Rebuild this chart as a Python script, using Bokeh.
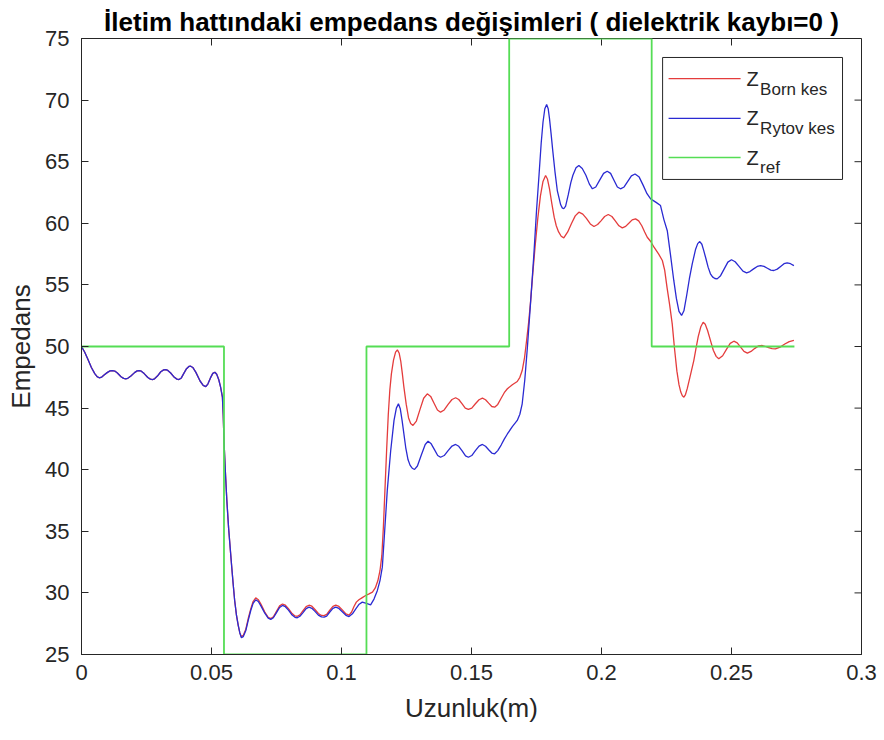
import math
from bokeh.plotting import figure
from bokeh.models import FixedTicker, Range1d
from bokeh.core.properties import value
from bokeh.embed import file_html
from bokeh.resources import INLINE

# ---------------- data ----------------
# first section: both curves coincide
x_section1 = [0.0000, 0.0012, 0.0025, 0.0038, 0.0051, 0.0060, 0.0068, 0.0078, 0.0088, 0.0100,
              0.0110, 0.0119, 0.0128, 0.0138, 0.0152, 0.0162, 0.0170, 0.0178, 0.0190, 0.0204,
              0.0214, 0.0222, 0.0230, 0.0241, 0.0255, 0.0265, 0.0273, 0.0281, 0.0292, 0.0305,
              0.0316, 0.0324, 0.0332, 0.0343, 0.0357, 0.0367, 0.0375, 0.0384, 0.0393, 0.0404,
              0.0413, 0.0420, 0.0428, 0.0440, 0.0456, 0.0468, 0.0478, 0.0486, 0.0496, 0.0505,
              0.0513, 0.0520, 0.0528, 0.0535, 0.0542, 0.0545, 0.0548, 0.0553, 0.0559, 0.0566,
              0.0577, 0.0583, 0.0589, 0.0596, 0.0603, 0.0609]
z_section1 = [50.00, 49.55, 48.95, 48.30, 47.80, 47.55, 47.46, 47.52, 47.70, 47.90,
              48.02, 48.05, 48.01, 47.85, 47.55, 47.41, 47.38, 47.42, 47.60, 47.88,
              48.02, 48.05, 48.00, 47.80, 47.48, 47.35, 47.32, 47.38, 47.60, 47.95,
              48.10, 48.13, 48.06, 47.85, 47.50, 47.35, 47.32, 47.45, 47.80, 48.20,
              48.38, 48.40, 48.30, 47.90, 47.20, 46.85, 46.75, 46.95, 47.45, 47.82,
              47.91, 47.75, 47.30, 46.70, 45.89, 44.50, 42.37, 40.00, 37.50, 35.20,
              32.30, 30.80, 29.40, 28.20, 27.35, 26.75]

x_rytov_rest = [0.0615, 0.0622, 0.0632, 0.0641, 0.0651, 0.0660, 0.0670, 0.0680, 0.0690, 0.0705,
                0.0718, 0.0728, 0.0738, 0.0750, 0.0762, 0.0773, 0.0784, 0.0796, 0.0810, 0.0821,
                0.0830, 0.0840, 0.0852, 0.0864, 0.0875, 0.0886, 0.0898, 0.0911, 0.0923, 0.0933,
                0.0943, 0.0955, 0.0967, 0.0978, 0.0990, 0.1004, 0.1017, 0.1029, 0.1042, 0.1055,
                0.1068, 0.1080, 0.1096, 0.1112, 0.1125, 0.1138, 0.1148, 0.1157, 0.1166, 0.1176,
                0.1189, 0.1202, 0.1211, 0.1219, 0.1226, 0.1233, 0.1247, 0.1256, 0.1264, 0.1272,
                0.1281, 0.1292, 0.1307, 0.1322, 0.1333, 0.1345, 0.1357, 0.1370, 0.1381, 0.1395,
                0.1410, 0.1425, 0.1439, 0.1451, 0.1464, 0.1477, 0.1488, 0.1501, 0.1515, 0.1529,
                0.1542, 0.1554, 0.1566, 0.1578, 0.1589, 0.1601, 0.1614, 0.1626, 0.1638, 0.1657,
                0.1676, 0.1686, 0.1695, 0.1705, 0.1715, 0.1727, 0.1740, 0.1750, 0.1760, 0.1768,
                0.1775, 0.1782, 0.1789, 0.1795, 0.1800, 0.1806, 0.1812, 0.1821, 0.1830, 0.1843,
                0.1849, 0.1855, 0.1862, 0.1872, 0.1882, 0.1890, 0.1902, 0.1913, 0.1926, 0.1940,
                0.1953, 0.1965, 0.1978, 0.1993, 0.2008, 0.2022, 0.2035, 0.2048, 0.2061, 0.2073,
                0.2087, 0.2101, 0.2115, 0.2129, 0.2145, 0.2160, 0.2175, 0.2189, 0.2210, 0.2227,
                0.2240, 0.2253, 0.2265, 0.2278, 0.2288, 0.2298, 0.2308, 0.2317, 0.2328, 0.2338,
                0.2349, 0.2362, 0.2370, 0.2378, 0.2386, 0.2393, 0.2402, 0.2410, 0.2419, 0.2427,
                0.2436, 0.2445, 0.2458, 0.2472, 0.2486, 0.2500, 0.2514, 0.2529, 0.2544, 0.2558,
                0.2571, 0.2585, 0.2599, 0.2612, 0.2625, 0.2638, 0.2651, 0.2663, 0.2676, 0.2689,
                0.2702, 0.2714, 0.2727, 0.2740]
z_rytov_rest = [26.36, 26.45, 26.95, 27.75, 28.57, 29.15, 29.44, 29.30, 28.95, 28.35,
                27.95, 27.85, 27.98, 28.40, 28.82, 28.98, 28.88, 28.60, 28.20, 28.02,
                27.98, 28.10, 28.40, 28.72, 28.84, 28.75, 28.50, 28.20, 28.05, 28.03,
                28.12, 28.45, 28.75, 28.84, 28.74, 28.45, 28.18, 28.08, 28.30, 28.70,
                29.08, 29.25, 29.15, 29.03, 29.50, 30.20, 31.00, 32.09, 35.00, 38.30,
                41.50, 44.00, 45.00, 45.35, 44.95, 44.00, 41.80, 40.80, 40.35, 40.12,
                40.02, 40.30, 41.20, 42.05, 42.31, 42.10, 41.65, 41.15, 41.01, 41.15,
                41.55, 41.92, 42.05, 41.90, 41.52, 41.12, 41.01, 41.15, 41.55, 41.92,
                42.05, 41.90, 41.62, 41.35, 41.29, 41.55, 42.00, 42.48, 42.90, 43.50,
                44.00, 44.50, 45.35, 47.30, 49.94, 53.50, 57.50, 61.00, 64.00, 66.50,
                68.20, 69.30, 69.64, 69.30, 68.50, 67.30, 66.00, 64.20, 62.66, 61.50,
                61.25, 61.18, 61.40, 62.30, 63.30, 63.90, 64.50, 64.69, 64.45, 63.90,
                63.20, 62.80, 62.95, 63.50, 64.05, 64.23, 64.05, 63.50, 62.95, 62.80,
                62.95, 63.40, 63.85, 64.00, 63.75, 63.10, 62.40, 61.98, 61.70, 61.44,
                60.30, 59.40, 57.50, 55.36, 53.90, 52.85, 52.52, 52.90, 54.20, 55.50,
                56.71, 57.90, 58.35, 58.52, 58.30, 57.80, 57.10, 56.44, 55.90, 55.65,
                55.52, 55.49, 55.75, 56.30, 56.85, 57.04, 56.88, 56.50, 56.12, 55.98,
                56.08, 56.30, 56.50, 56.57, 56.50, 56.35, 56.20, 56.17, 56.28, 56.50,
                56.72, 56.79, 56.72, 56.57]

x_born_rest = [0.0615, 0.0622, 0.0632, 0.0641, 0.0651, 0.0660, 0.0670, 0.0680, 0.0690, 0.0705,
               0.0718, 0.0728, 0.0738, 0.0750, 0.0762, 0.0773, 0.0784, 0.0796, 0.0810, 0.0821,
               0.0830, 0.0840, 0.0852, 0.0864, 0.0875, 0.0886, 0.0898, 0.0911, 0.0923, 0.0933,
               0.0943, 0.0955, 0.0967, 0.0978, 0.0990, 0.1004, 0.1017, 0.1029, 0.1039, 0.1048,
               0.1057, 0.1067, 0.1080, 0.1093, 0.1106, 0.1119, 0.1130, 0.1140, 0.1148, 0.1155,
               0.1161, 0.1167, 0.1174, 0.1180, 0.1186, 0.1192, 0.1200, 0.1208, 0.1215, 0.1222,
               0.1228, 0.1234, 0.1240, 0.1249, 0.1258, 0.1266, 0.1275, 0.1288, 0.1302, 0.1316,
               0.1330, 0.1343, 0.1356, 0.1369, 0.1381, 0.1395, 0.1410, 0.1425, 0.1439, 0.1451,
               0.1464, 0.1476, 0.1488, 0.1501, 0.1515, 0.1529, 0.1542, 0.1554, 0.1566, 0.1578,
               0.1589, 0.1601, 0.1614, 0.1626, 0.1638, 0.1657, 0.1676, 0.1686, 0.1695, 0.1704,
               0.1712, 0.1720, 0.1727, 0.1736, 0.1745, 0.1755, 0.1765, 0.1775, 0.1785, 0.1792,
               0.1800, 0.1809, 0.1818, 0.1826, 0.1835, 0.1845, 0.1855, 0.1870, 0.1885, 0.1899,
               0.1913, 0.1928, 0.1942, 0.1957, 0.1971, 0.1985, 0.1998, 0.2012, 0.2026, 0.2040,
               0.2053, 0.2067, 0.2080, 0.2093, 0.2105, 0.2118, 0.2131, 0.2143, 0.2155, 0.2166,
               0.2176, 0.2190, 0.2202, 0.2220, 0.2234, 0.2243, 0.2252, 0.2262, 0.2272, 0.2281,
               0.2290, 0.2298, 0.2305, 0.2311, 0.2317, 0.2323, 0.2330, 0.2340, 0.2355, 0.2364,
               0.2372, 0.2382, 0.2391, 0.2399, 0.2408, 0.2419, 0.2430, 0.2441, 0.2451, 0.2466,
               0.2480, 0.2495, 0.2509, 0.2522, 0.2535, 0.2548, 0.2561, 0.2575, 0.2590, 0.2604,
               0.2618, 0.2631, 0.2643, 0.2656, 0.2669, 0.2687, 0.2705, 0.2722, 0.2740]
z_born_rest = [26.45, 26.55, 27.05, 27.90, 28.70, 29.30, 29.60, 29.45, 29.10, 28.45,
               28.02, 27.92, 28.05, 28.50, 28.95, 29.10, 29.00, 28.72, 28.32, 28.13,
               28.10, 28.22, 28.55, 28.88, 29.00, 28.92, 28.65, 28.33, 28.17, 28.15,
               28.25, 28.60, 28.90, 29.00, 28.90, 28.60, 28.30, 28.20, 28.45, 28.90,
               29.25, 29.44, 29.62, 29.79, 29.92, 30.06, 30.40, 31.00, 31.80, 33.00,
               35.30, 38.30, 41.80, 44.50, 46.50, 47.80, 48.90, 49.55, 49.73, 49.45,
               48.80, 47.80, 46.70, 45.30, 44.20, 43.75, 43.59, 43.95, 44.90, 45.80,
               46.16, 45.95, 45.40, 44.85, 44.67, 44.85, 45.30, 45.70, 45.84, 45.70,
               45.35, 45.00, 44.89, 45.00, 45.35, 45.68, 45.81, 45.68, 45.40, 45.13,
               45.07, 45.30, 45.80, 46.25, 46.57, 46.90, 47.16, 47.50, 48.05, 49.10,
               50.50, 52.00, 53.60, 56.00, 58.20, 60.40, 62.20, 63.40, 63.88, 63.60,
               62.80, 61.60, 60.50, 59.80, 59.30, 58.95, 58.82, 59.30, 60.00, 60.60,
               60.90, 60.75, 60.40, 59.95, 59.74, 59.90, 60.20, 60.55, 60.71, 60.55,
               60.20, 59.80, 59.63, 59.75, 60.00, 60.28, 60.36, 60.20, 59.80, 59.30,
               58.87, 58.50, 58.06, 57.50, 56.98, 56.20, 54.80, 53.40, 51.84, 49.80,
               48.00, 46.90, 46.30, 46.00, 45.89, 46.10, 46.60, 47.50, 48.86, 49.90,
               50.80, 51.60, 51.97, 51.80, 51.30, 50.50, 49.70, 49.20, 49.00, 49.25,
               49.75, 50.25, 50.43, 50.30, 49.95, 49.60, 49.46, 49.60, 49.85, 50.05,
               50.08, 50.00, 49.90, 49.82, 49.81, 49.95, 50.20, 50.40, 50.49]

x_born = x_section1 + x_born_rest
z_born = z_section1 + z_born_rest
x_rytov = x_section1 + x_rytov_rest
z_rytov = z_section1 + z_rytov_rest

ref_edges = [0.0, 0.0548, 0.1096, 0.1645, 0.2193, 0.2742]
ref_levels = [50, 25, 50, 75, 50]

x_lim = (0, 0.3)
y_lim = (25, 75)
x_ticks = [0, 0.05, 0.1, 0.15, 0.2, 0.25, 0.3]
x_tick_labels = ["0", "0.05", "0.1", "0.15", "0.2", "0.25", "0.3"]
y_ticks = [25, 30, 35, 40, 45, 50, 55, 60, 65, 70, 75]

legend_subs = ["Born kes", "Rytov kes", "ref"]
legend_colors = ["#e43c3c", "#2a2ad2", "#55dd55"]

TITLE = "İletim hattındaki empedans değişimleri ( dielektrik kaybı=0 )"
FONT = "Liberation Sans"
INK = "#262626"

# ---------------- figure ----------------
p = figure(width=884, height=740, x_range=Range1d(*x_lim), y_range=Range1d(*y_lim),
           output_backend="svg", toolbar_location=None,
           min_border_left=81, min_border_right=23, min_border_top=38, min_border_bottom=86)
p.background_fill_color = "white"
p.border_fill_color = "white"
p.outline_line_color = INK
p.outline_line_width = 1
p.xgrid.grid_line_color = None
p.ygrid.grid_line_color = None

p.title.text = TITLE
p.title.text_font = FONT
p.title.text_font_size = "26px"
p.title.text_font_style = "bold"
p.title.text_color = "black"
p.title.align = "center"
p.title.standoff = 4

xa = p.xaxis[0]
ya = p.yaxis[0]
xa.ticker = FixedTicker(ticks=x_ticks)
xa.major_label_overrides = {t: l for t, l in zip(x_ticks, x_tick_labels)}
ya.ticker = FixedTicker(ticks=y_ticks)
xa.axis_label = "Uzunluk(m)"
ya.axis_label = "Empedans"
for ax in (xa, ya):
    ax.major_tick_in = 7
    ax.major_tick_out = 0
    ax.minor_tick_in = 0
    ax.minor_tick_out = 0
    ax.axis_line_color = INK
    ax.major_tick_line_color = INK
    ax.major_label_text_font = FONT
    ax.major_label_text_font_size = "22px"
    ax.major_label_text_color = INK
    ax.axis_label_text_font = FONT
    ax.axis_label_text_font_size = "26px"
    ax.axis_label_text_font_style = "normal"
    ax.axis_label_text_color = INK
xa.major_label_standoff = 10
xa.axis_label_standoff = 10
ya.major_label_standoff = 12
ya.axis_label_standoff = 6

# inward ticks on the top and right edges of the box
p.ray(x=x_ticks, y=[y_lim[1]] * len(x_ticks), length=7, length_units="screen",
      angle=-math.pi / 2, line_color=INK, line_width=1)
p.ray(x=[x_lim[1]] * len(y_ticks), y=y_ticks, length=7, length_units="screen",
      angle=math.pi, line_color=INK, line_width=1)

# ---------------- curves ----------------
p.line(x_born, z_born, line_color=legend_colors[0], line_width=1.3)
p.line(x_rytov, z_rytov, line_color=legend_colors[1], line_width=1.3)
p.step(ref_edges, ref_levels + [ref_levels[-1]], mode="after",
       line_color=legend_colors[2], line_width=1.8)

# ---------------- legend (drawn by hand for subscripts) ----------------
lg_left, lg_right, lg_top, lg_bottom = 0.2235, 0.2927, 73.46, 63.56
lg_line_x0, lg_line_x1 = 0.2258, 0.2535
lg_rows = [71.75, 68.51, 65.34]
lg_sub_drop = 0.85
lg_z_x, lg_sub_x = 0.2558, 0.2610

p.quad(left=[lg_left], right=[lg_right], top=[lg_top], bottom=[lg_bottom],
       fill_color="white", line_color=INK, line_width=1)
p.segment(x0=[lg_line_x0] * 3, x1=[lg_line_x1] * 3, y0=lg_rows, y1=lg_rows,
          line_color=legend_colors, line_width=1.3)
p.text(x=[lg_z_x] * 3, y=lg_rows, text=["Z"] * 3, text_font=value(FONT),
       text_font_size="20px", text_baseline="middle", text_align="left", text_color=INK)
p.text(x=[lg_sub_x] * 3, y=[r - lg_sub_drop for r in lg_rows], text=legend_subs,
       text_font=value(FONT), text_font_size="17px", text_baseline="middle",
       text_align="left", text_color=INK)

open("out.html", "w").write(file_html(p, INLINE))
